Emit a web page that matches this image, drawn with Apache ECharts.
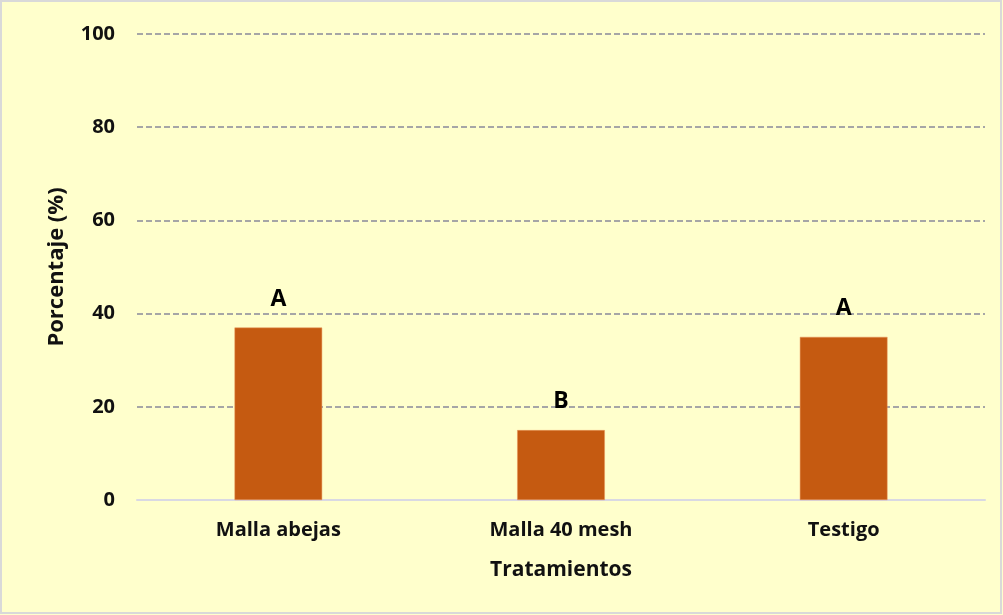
<!DOCTYPE html>
<html>
<head>
<meta charset="utf-8">
<script src="https://cdn.jsdelivr.net/npm/echarts@6/dist/echarts.min.js"></script>
<style>
html,body{margin:0;padding:0;background:#FFFFCC;}
#chart{width:1003px;height:615px;}
</style>
</head>
<body>
<div id="chart"></div>
<script>
const categories = ['Malla abejas', 'Malla 40 mesh', 'Testigo'];
const values = [37, 15, 35];
const letters = ['A', 'B', 'A'];
const yTicks = [0, 20, 40, 60, 80, 100];

const FONT = '"Open Sans", Lato, sans-serif';
const chart = echarts.init(document.getElementById('chart'), null, {renderer: 'canvas'});
chart.setOption({
  backgroundColor: '#FFFFCC',
  animation: false,
  graphic: [{
    type: 'rect', silent: true, z: 100,
    shape: {x: 1, y: 1, width: 1000, height: 612},
    style: {fill: 'none', stroke: '#D9D9D9', lineWidth: 2}
  }],
  grid: {left: 137, right: 18, top: 34, bottom: 115},
  xAxis: {
    type: 'category',
    data: categories,
    name: 'Tratamientos',
    nameLocation: 'middle',
    nameGap: 60,
    nameTextStyle: {fontFamily: FONT, fontSize: 21, fontWeight: 'bold', color: '#111'},
    axisLine: {lineStyle: {color: '#D9D9E3', width: 2}},
    axisTick: {show: false},
    axisLabel: {fontFamily: FONT, fontSize: 20, fontWeight: 'bold', color: '#111', margin: 20}
  },
  yAxis: {
    type: 'value',
    min: yTicks[0], max: yTicks[yTicks.length - 1], interval: 20,
    name: 'Porcentaje (%)',
    nameLocation: 'middle',
    nameGap: 69,
    nameRotate: 90,
    nameTextStyle: {fontFamily: FONT, fontSize: 22, fontWeight: 'bold', color: '#111'},
    axisLine: {show: false},
    axisTick: {show: false},
    axisLabel: {fontFamily: FONT, fontSize: 20, fontWeight: 'bold', color: '#111', margin: 22},
    splitLine: {lineStyle: {color: '#A6A6A6', type: [6, 3], width: 2}}
  },
  series: [{
    type: 'bar',
    data: values,
    barWidth: '31%',
    itemStyle: {color: '#C55A11', borderColor: '#E8955A', borderWidth: 0.5},
    label: {
      show: true, position: 'top', distance: 17,
      formatter: p => letters[p.dataIndex],
      fontFamily: FONT, fontSize: 23, fontWeight: 'bold', color: '#000'
    }
  }]
});
</script>
</body>
</html>
